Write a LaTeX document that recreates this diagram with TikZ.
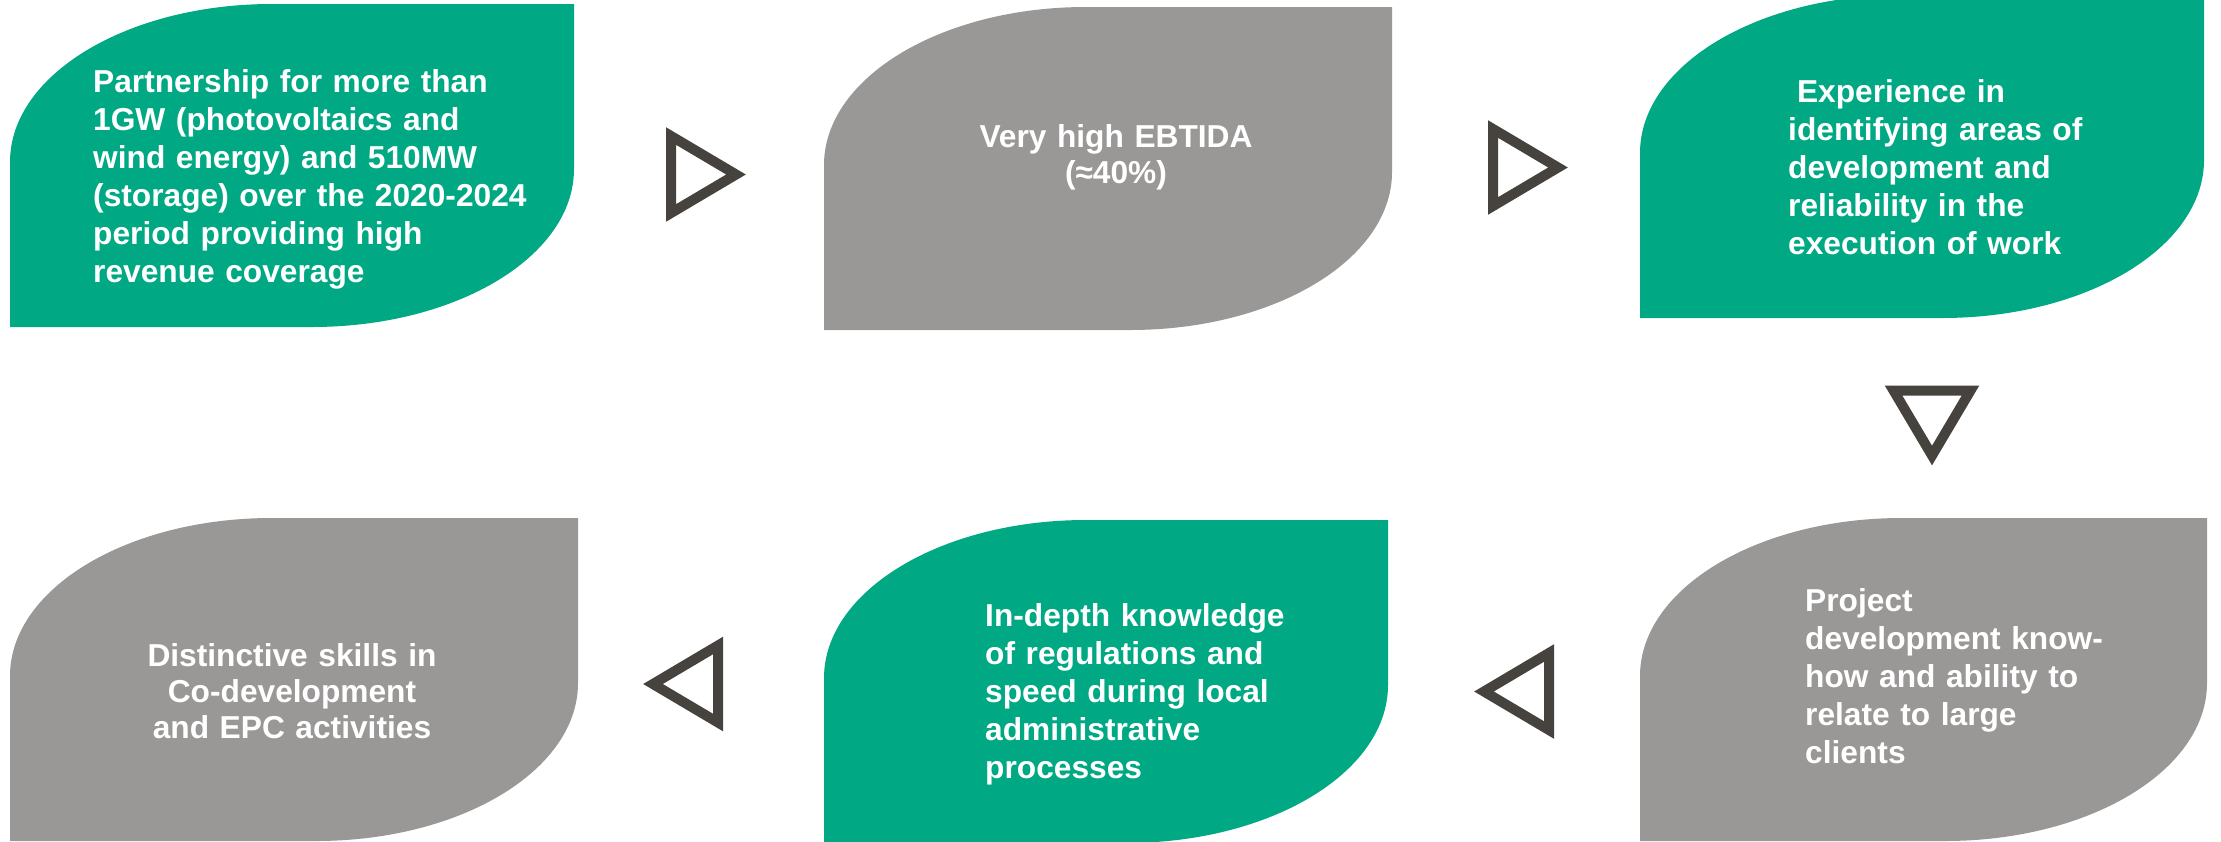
\documentclass[tikz,border=0pt]{standalone}
\usepackage{fontspec}
\setmainfont{Liberation Sans}
\definecolor{leafgreen}{RGB}{0,169,132}
\definecolor{leafgray}{RGB}{153,152,150}
\definecolor{tridark}{RGB}{70,66,61}
% leaf shape: x1 y1 x2 y2 colour (pixel coordinates, y downwards)
\newcommand\leafshape[5]{%
  \fill[#5] (#1,#4) -- (#1,{#2+158}) .. controls (#1,{#2+70.7}) and ({#1+117.3},#2) .. ({#1+262},#2)
    -- (#3,#2) -- (#3,{#4-158}) .. controls (#3,{#4-70.7}) and ({#3-117.3},#4) .. ({#3-262},#4) -- cycle;}
% open triangle marker at a named coordinate, rotated
\newcommand\trimark[2]{%
  \draw[tristyle, shift={(#1)}, rotate=#2] (-35,-38.5) -- (30,0) -- (-35,38.5) -- cycle;}
\tikzset{
  txt/.style={text=white, font=\bfseries\fontsize{31.7}{38}\selectfont, inner sep=0pt, text width=560pt},
  txtl/.style={txt, align=left, anchor=base west},
  txtc/.style={txt, align=center, anchor=base},
  tristyle/.style={draw=tridark, line width=10pt, line join=miter}
}
\begin{document}
\begin{tikzpicture}[x=1pt, y=-1pt]
\useasboundingbox (0,0) rectangle (2221,841);
\fill[white] (0,0) rectangle (2221,841);
% leaves
\leafshape{10}{4}{574}{327}{leafgreen}
\leafshape{824}{7}{1392}{330}{leafgray}
\leafshape{1640}{-5}{2204}{318}{leafgreen}
\leafshape{10}{518}{578}{841}{leafgray}
\leafshape{824}{520}{1388}{843}{leafgreen}
\leafshape{1640}{518}{2207}{841}{leafgray}
% texts
\node[txtl] (t1) at (93,92) {Partnership for more than\\1GW (photovoltaics and\\wind energy) and 510MW\\(storage) over the 2020-2024\\period providing high\\revenue coverage};
\node[txtc, font=\bfseries\fontsize{31.7}{36}\selectfont] (t2) at (1116,147) {Very high EBTIDA\\(≈40\%)};
\node[txtl] (t3) at (1788,102) {\hspace*{0.28em}Experience in\\identifying areas of\\development and\\reliability in the\\execution of work};
\node[txtc, font=\bfseries\fontsize{31.7}{36}\selectfont] (t4) at (292,666) {Distinctive skills in\\Co-development\\and EPC activities};
\node[txtl] (t5) at (985,626) {In-depth knowledge\\of regulations and\\speed during local\\administrative\\processes};
\node[txtl] (t6) at (1805,611) {Project\\development know-\\how and ability to\\relate to large\\clients};
% triangle markers
\coordinate (a1) at (706,174.5);
\coordinate (a2) at (1528,167.5);
\coordinate (a3) at (1932,425.5);
\coordinate (a4) at (683,684);
\coordinate (a5) at (1514,691.5);
\trimark{a1}{0}
\trimark{a2}{0}
\trimark{a3}{-90}
\trimark{a4}{180}
\trimark{a5}{180}
\end{tikzpicture}
\end{document}
